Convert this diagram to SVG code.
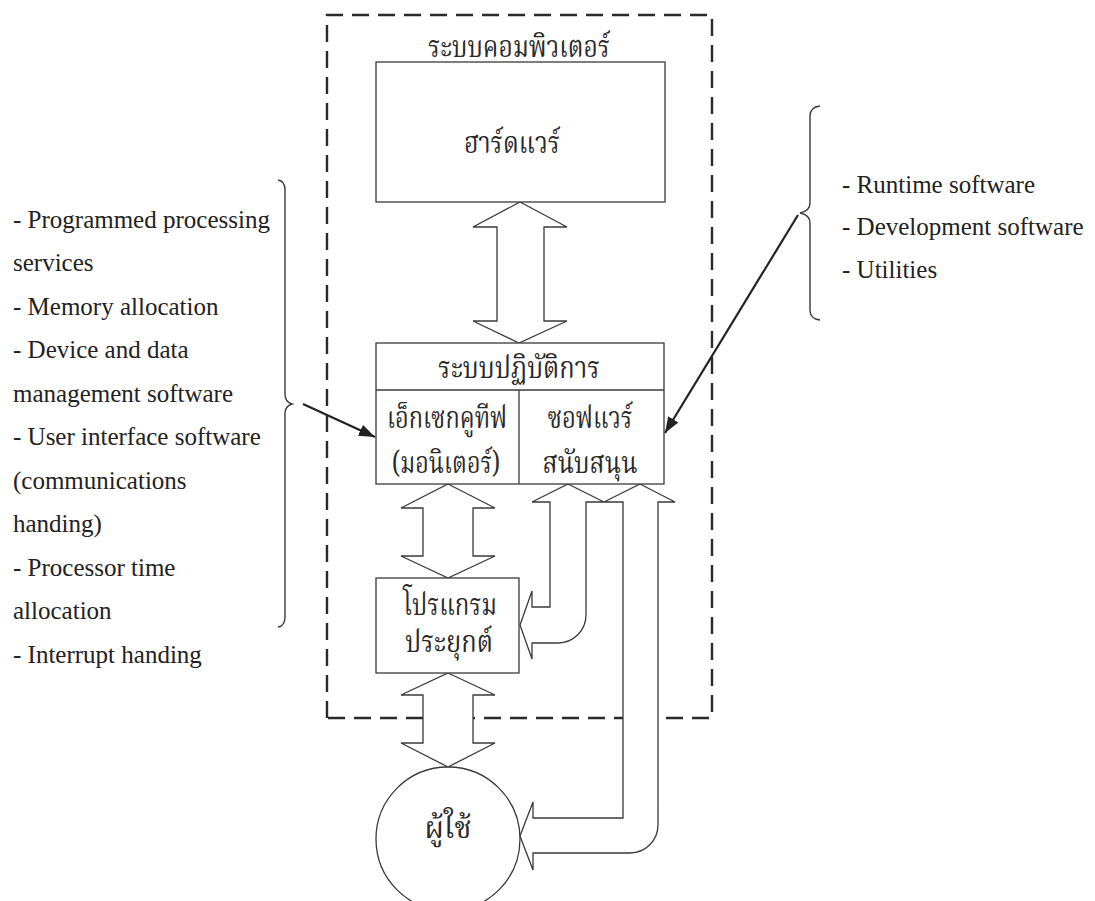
<svg xmlns="http://www.w3.org/2000/svg" width="1095" height="901" viewBox="0 0 1095 901">
  <style>
    .box { fill: #ffffff; stroke: #3a3a3a; stroke-width: 1.3; }
    .hollow { fill: #ffffff; stroke: #3a3a3a; stroke-width: 1.3; stroke-linejoin: miter; }
    .frame { fill: none; stroke: #2a2a2a; stroke-width: 2.4; stroke-dasharray: 17 9; }
    .brace { fill: none; stroke: #3a3a3a; stroke-width: 1.4; }
    .pointer { fill: none; stroke: #222222; stroke-width: 2.2; }
    .th { font-family: "Noto Serif Thai", "Noto Sans Thai", "Liberation Serif", serif; font-size: 31px; fill: #2a2a2a; text-anchor: middle; }
    .en { font-family: "Liberation Serif", "Times New Roman", serif; font-size: 25px; fill: #222222; }
  </style>
  <defs>
    <marker id="head" markerUnits="userSpaceOnUse" markerWidth="18" markerHeight="14" refX="16" refY="6" orient="auto">
      <path d="M0,0 L16,6 L0,12 Z" fill="#222222"/>
    </marker>
  </defs>

  <rect width="1095" height="901" fill="#ffffff"/>

  <!-- computer system boundary -->
  <g id="system-boundary">
    <path class="frame" d="M327,718 L327,15 L712,15 L712,718 Z"/>
    <text class="th" x="519" y="57" textLength="182" lengthAdjust="spacingAndGlyphs">ระบบคอมพิวเตอร์</text>
  </g>

  <!-- connectors -->
  <g id="connectors">
    <!-- hardware <-> operating system -->
    <path class="hollow" d="M520,202 L567,227 L544,227 L544,321 L567,321 L519,343 L473,321 L497,321 L497,227 L473,227 Z"/>
    <!-- executive <-> application -->
    <path class="hollow" d="M448,484 L495,508 L473,508 L473,556 L495,556 L448,578 L401,556 L423,556 L423,508 L401,508 Z"/>
    <!-- application <-> user -->
    <path class="hollow" d="M448,673 L495,695 L473,695 L473,743 L495,743 L448,767 L401,743 L423,743 L423,695 L401,695 Z"/>
    <!-- support software <-> application -->
    <path class="hollow" d="M568,484 L604,502 L586,502 L586,615 A28,28 0 0 1 558,643 L532,643 L532,659 L520,625 L532,591 L532,607 L550,607 L550,502 L532,502 Z"/>
    <!-- support software <-> user -->
    <path class="hollow" d="M640,484 L675,502 L658,502 L658,825 A28,28 0 0 1 630,853 L533,853 L533,870 L520,836 L533,802 L533,818 L623,818 L623,502 L604,502 Z"/>
    <!-- annotation pointers -->
    <line class="pointer" x1="303" y1="404" x2="375" y2="437" marker-end="url(#head)"/>
    <line class="pointer" x1="798" y1="215" x2="665" y2="433" marker-end="url(#head)"/>
  </g>

  <g id="hardware">
    <rect class="box" x="376" y="62" width="289" height="140"/>
    <text class="th" x="512" y="153" textLength="96" lengthAdjust="spacingAndGlyphs">ฮาร์ดแวร์</text>
  </g>

  <g id="operating-system">
    <rect class="box" x="376" y="343" width="288" height="141"/>
    <line class="box" x1="376" y1="390" x2="664" y2="390"/>
    <line class="box" x1="519" y1="390" x2="519" y2="484"/>
    <text class="th" x="519" y="378" textLength="162" lengthAdjust="spacingAndGlyphs">ระบบปฏิบัติการ</text>
  </g>

  <g id="executive">
    <text class="th" x="447" y="428" textLength="120" lengthAdjust="spacingAndGlyphs">เอ็กเซกคูทีฟ</text>
    <text class="th" x="446" y="473" textLength="108" lengthAdjust="spacingAndGlyphs">(มอนิเตอร์)</text>
  </g>

  <g id="support-software">
    <text class="th" x="590" y="428" textLength="85" lengthAdjust="spacingAndGlyphs">ซอฟแวร์</text>
    <text class="th" x="590" y="473" textLength="95" lengthAdjust="spacingAndGlyphs">สนับสนุน</text>
  </g>

  <g id="application">
    <rect class="box" x="376" y="578" width="143" height="95"/>
    <text class="th" x="450" y="615" textLength="94" lengthAdjust="spacingAndGlyphs">โปรแกรม</text>
    <text class="th" x="449" y="652" textLength="88" lengthAdjust="spacingAndGlyphs">ประยุกต์</text>
  </g>

  <g id="user">
    <circle class="box" cx="448" cy="839" r="72"/>
    <text class="th" x="448" y="838" textLength="47" lengthAdjust="spacingAndGlyphs">ผู้ใช้</text>
  </g>

  <!-- executive functions list -->
  <g id="executive-notes">
    <path class="brace" d="M278,180 Q285,181 285,190 L285,394 Q285,402 292,404 Q285,406 285,414 L285,617 Q285,626 278,627"/>
    <text class="en" x="13" y="228">- Programmed processing</text>
    <text class="en" x="13" y="271">services</text>
    <text class="en" x="13" y="315">- Memory allocation</text>
    <text class="en" x="13" y="358">- Device and data</text>
    <text class="en" x="13" y="402">management software</text>
    <text class="en" x="13" y="445">- User interface software</text>
    <text class="en" x="13" y="489">(communications</text>
    <text class="en" x="13" y="532">handing)</text>
    <text class="en" x="13" y="576">- Processor time</text>
    <text class="en" x="13" y="619">allocation</text>
    <text class="en" x="13" y="663">- Interrupt handing</text>
  </g>

  <!-- support software list -->
  <g id="support-notes">
    <path class="brace" d="M820,106 Q810,107 810,116 L810,203 Q810,211 800,213 Q810,215 810,223 L810,310 Q810,319 820,320"/>
    <text class="en" x="842" y="193">- Runtime software</text>
    <text class="en" x="842" y="235">- Development software</text>
    <text class="en" x="842" y="278">- Utilities</text>
  </g>
</svg>
